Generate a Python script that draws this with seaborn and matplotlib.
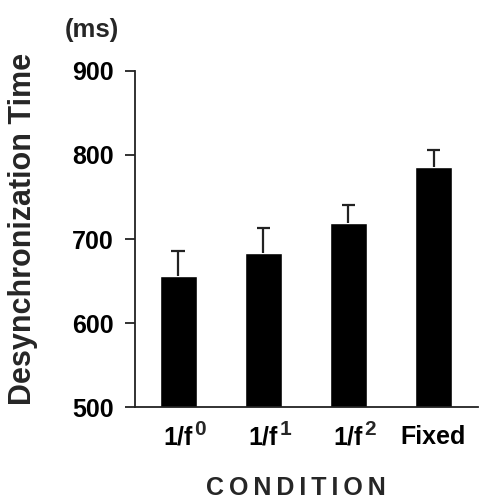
import numpy as np
import pandas as pd
import matplotlib
matplotlib.use("Agg")
import matplotlib.pyplot as plt
import seaborn as sns

conditions = ["1/f0", "1/f1", "1/f2", "Fixed"]
base_labels = ["1/f", "1/f", "1/f", "Fixed"]
sup_labels = ["0", "1", "2", ""]
means = [656, 683, 719, 786]
errors = [30, 30, 22, 20]

df = pd.DataFrame({"Condition": conditions, "Time": means})

sns.set_style("ticks")
plt.rcParams["font.family"] = ["Liberation Sans", "DejaVu Sans"]
plt.rcParams["font.weight"] = "bold"

fig = plt.figure(figsize=(4.87, 4.99), dpi=100)
ax = fig.add_axes([0.277, 0.184, 0.704, 0.674])

sns.barplot(data=df, x="Condition", y="Time", color="black", width=0.43,
            errorbar=None, ax=ax, saturation=1)

# upper error bars only
xpos = np.arange(len(means))
tops = np.array(means) + np.array(errors)
ax.vlines(xpos, means, tops, color="#222222", linewidth=1.6)
ax.hlines(tops, xpos - 0.08, xpos + 0.08, color="#222222", linewidth=1.6)

ax.set_ylim(500, 900)
ax.set_xlim(-0.51, 3.52)
ax.set_yticks([500, 600, 700, 800, 900])
ax.set_xticks(range(4))
ax.set_xticklabels(base_labels, fontsize=18, fontweight="bold")
ax.tick_params(axis="y", length=7, width=1.3, pad=8, labelsize=18, colors="#222222")
ax.tick_params(axis="x", length=0, pad=13, colors="black")
for lbl in ax.get_yticklabels():
    lbl.set_fontweight("bold")
    lbl.set_color("black")
ax.get_xticklabels()[3].set_x(3.08)
ax.set_xlabel("")
ax.set_ylabel("")
sns.despine(ax=ax)
for s in ["left", "bottom"]:
    ax.spines[s].set_linewidth(1.3)
    ax.spines[s].set_color("#222222")

# superscripts attached to the tick labels
for lbl, sup in zip(ax.get_xticklabels(), sup_labels):
    if sup:
        ax.annotate(sup, xy=(1, 0), xycoords=lbl, xytext=(1, 7.5),
                    textcoords="offset points", ha="left", va="bottom",
                    fontsize=15, fontweight="bold")

fig.text(23 / 487, 1 - 229 / 499, "Desynchronization Time", rotation=90,
         ha="center", va="center", fontsize=22, fontweight="bold")
fig.text(92 / 487, 1 - 30 / 499, "(ms)", ha="center", va="center",
         fontsize=18.5, fontweight="bold")
fig.text(296 / 487, 1 - 495 / 499, "\u2009".join("CONDITION"),
         ha="center", va="baseline", fontsize=18, fontweight="bold")

fig.savefig("out.png", dpi=100)
